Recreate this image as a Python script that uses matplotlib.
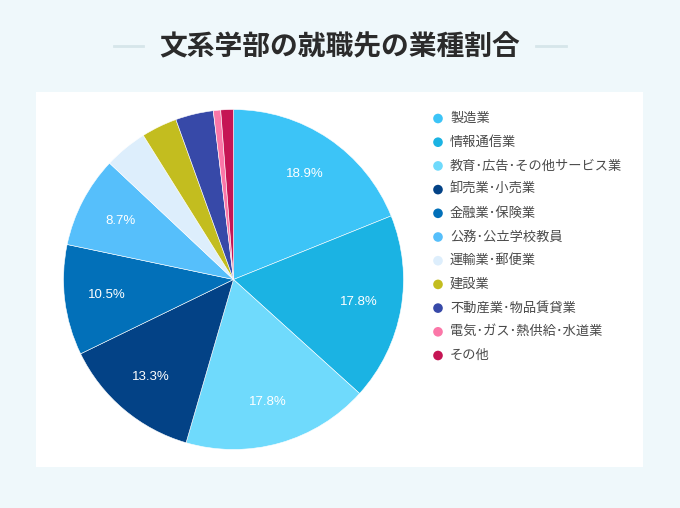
import matplotlib
matplotlib.use("Agg")
import matplotlib.pyplot as plt
from matplotlib.lines import Line2D

plt.rcParams['font.family'] = ['Noto Sans CJK JP', 'DejaVu Sans']

TITLE = "文系学部の就職先の業種割合"
industries = ["製造業", "情報通信業", "教育・広告・その他サービス業", "卸売業・小売業",
              "金融業・保険業", "公務・公立学校教員", "運輸業・郵便業", "建設業",
              "不動産業・物品賃貸業", "電気・ガス・熱供給・水道業", "その他"]
shares = [18.9, 17.8, 17.8, 13.3, 10.5, 8.7, 4.1, 3.4, 3.6, 0.7, 1.2]
colors = ["#3cc4f7", "#1bb3e3", "#6fdafc", "#034286", "#0270b9", "#56bffb",
          "#ddeefc", "#c3bd1f", "#3749a8", "#fb77a8", "#c51554"]
MIN_LABEL = 8.0   # only the big slices carry a percent label

W, H = 680, 508
BG = "#eff8fb"
fig = plt.figure(figsize=(W/100, H/100), dpi=100, facecolor=BG)

# title with the thin rules either side
fig.text(340/W, 1 - 47/H, TITLE, ha="center", va="center", fontsize=20,
         fontweight="bold", color="#2b2b2b")
for x0, x1 in [(114, 143), (536, 566)]:
    fig.add_artist(Line2D([x0/W, x1/W], [1 - 46/H, 1 - 46/H], color="#d6e6ea", lw=2))

# white panel
panel = fig.add_axes([36/W, 1 - 467/H, (643-36)/W, (467-92)/H])
panel.set_facecolor("white"); panel.set_xticks([]); panel.set_yticks([])
for s in panel.spines.values(): s.set_visible(False)

# pie, center (233.5, 279.5) px, radius 170 px
cx, cy, r = 233.5, 279.5, 170
ax = fig.add_axes([(cx - r)/W, 1 - (cy + r)/H, 2*r/W, 2*r/H])
ax.patch.set_alpha(0)
wedges, _, autotexts = ax.pie(
    shares, colors=colors, startangle=90, counterclock=False,
    autopct=lambda p: f"{p:.1f}%" if p >= MIN_LABEL else "",
    pctdistance=0.75, wedgeprops=dict(edgecolor="white", linewidth=0.4),
    textprops=dict(color="white", fontsize=9.5, family=["Liberation Sans", "DejaVu Sans"]))
ax.set_xlim(-1, 1); ax.set_ylim(-1, 1); ax.set_aspect("equal")

# legend drawn row by row; the reference sets the middle dots narrow
lg = fig.add_axes([0, 0, 1, 1]); lg.set_xlim(0, W); lg.set_ylim(H, 0); lg.axis("off")
y0, dy = 118.5, 23.7
for i, (lab, c) in enumerate(zip(industries, colors)):
    y = y0 + i*dy
    lg.scatter([438], [y], s=48, color=c, edgecolors="none")
    lg.text(450, y, lab.replace("・", "･"), va="center", ha="left", fontsize=9.5,
            color="#4a4a4a")

fig.savefig("out.png", dpi=100, facecolor=BG)
